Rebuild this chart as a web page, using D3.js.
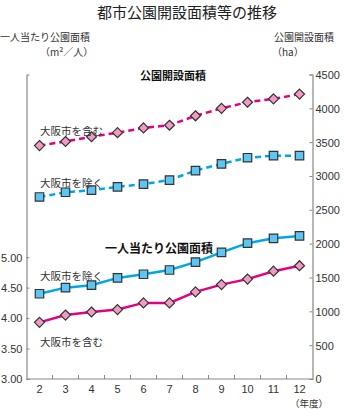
<!DOCTYPE html>
<html><head><meta charset="utf-8">
<script src="https://cdn.jsdelivr.net/npm/d3@7"></script>
<style>body{margin:0;background:#fff;}svg{display:block;font-family:"Noto Sans CJK JP","Noto Sans",sans-serif;}</style>
</head><body><svg id="c" width="344" height="409"></svg>
<script>
const years = [2,3,4,5,6,7,8,9,10,11,12];
const areaInclOsaka = [3450,3510,3580,3640,3710,3750,3890,4000,4090,4140,4210];
const areaExclOsaka = [2690,2760,2790,2840,2880,2940,3080,3180,3270,3300,3300];
const perPersonExclOsaka = [4.40,4.50,4.54,4.66,4.72,4.79,4.92,5.08,5.23,5.31,5.35];
const perPersonInclOsaka = [3.93,4.05,4.10,4.14,4.25,4.25,4.43,4.55,4.64,4.77,4.86];
const leftTicks = [3.00,3.50,4.00,4.50,5.00];
const rightTicks = [0,500,1000,1500,2000,2500,3000,3500,4000,4500];

const svg = d3.select("#c");
const L = 26.5, R = 312.5, B = 379, T = 74.5;
const x = d3.scaleBand().domain(years).range([L,R]);
const yR = d3.scaleLinear().domain([0,4500]).range([B,T]);
const yL = d3.scaleLinear().domain([3,8]).range([B,T]);
const cx = d => x(d) + x.bandwidth()/2;
const axisCol = "#888", txt = "#333";
const PINK = "#e4007f", PINKF = "#f39ac4", CYAN = "#00a7e6", CYANF = "#5cc6f2";

// title
svg.append("text").attr("x",187).attr("y",18).attr("text-anchor","middle")
  .attr("font-size",15).attr("fill","#222").text("都市公園開設面積等の推移");
svg.append("text").attr("x",0).attr("y",41).attr("font-size",10).attr("fill",txt).text("一人当たり公園面積");
svg.append("text").attr("x",40).attr("y",56).attr("font-size",10).attr("fill",txt).text("（m²／人）");
svg.append("text").attr("x",274).attr("y",41).attr("font-size",10).attr("fill",txt).text("公園開設面積");
svg.append("text").attr("x",272).attr("y",56).attr("font-size",10).attr("fill",txt).text("（ha）");

// axes
const gL = svg.append("g").attr("transform",`translate(${L},0)`)
  .call(d3.axisRight(yL).tickValues(leftTicks).tickSize(3).tickFormat(""));
gL.selectAll(".tick").append("text").attr("x",-4).attr("dy","0.35em").attr("text-anchor","end")
  .attr("font-size",11).attr("fill",txt).text(d=>d3.format(".2f")(d));
const gR = svg.append("g").attr("transform",`translate(${R},0)`)
  .call(d3.axisLeft(yR).tickValues(rightTicks).tickSize(3).tickFormat(""));
gR.selectAll(".tick").append("text").attr("x",3).attr("dy","0.35em").attr("text-anchor","start")
  .attr("font-size",11).attr("fill",txt).text(d=>d);
const gB = svg.append("g").attr("transform",`translate(0,${B})`)
  .call(d3.axisBottom(x).tickSize(0).tickFormat(d=>d));
gB.selectAll("text").attr("font-size",11).attr("fill",txt).attr("dy","1.0em");
// inner ticks at band boundaries
svg.append("g").selectAll("line").data(years.slice(1)).join("line")
  .attr("x1",d=>x(d)).attr("x2",d=>x(d)).attr("y1",B).attr("y2",B-4)
  .attr("stroke",axisCol);
[gL,gR,gB].forEach(g=>{g.selectAll("path.domain").attr("stroke",axisCol).attr("stroke-width",1.2);
  g.selectAll(".tick line").attr("stroke",axisCol);});
gB.select("path.domain").remove();
svg.append("line").attr("x1",L).attr("x2",R).attr("y1",B).attr("y2",B).attr("stroke",axisCol).attr("stroke-width",1.2);
svg.append("text").attr("x",290).attr("y",407).attr("font-size",9.5).attr("fill",txt).text("（年度）");

function series(vals, scale, color, fill, dashed, shape){
  const line = d3.line().x((d,i)=>cx(years[i])).y(d=>scale(d));
  svg.append("path").datum(vals).attr("d",line).attr("fill","none")
    .attr("stroke",color).attr("stroke-width",2.5)
    .attr("stroke-dasharray",dashed?"6,4":null);
  const sym = d3.symbol().type(shape==="sq"?d3.symbolSquare:d3.symbolDiamond2).size(shape==="sq"?72:64);
  svg.append("g").selectAll("path").data(vals).join("path")
    .attr("transform",(d,i)=>`translate(${cx(years[i])},${scale(d)})`)
    .attr("d",sym).attr("fill",fill).attr("stroke","#333").attr("stroke-width",1.2);
}
series(areaInclOsaka, yR, PINK, PINKF, true, "dm");
series(areaExclOsaka, yR, CYAN, CYANF, true, "sq");
series(perPersonExclOsaka, yL, CYAN, CYANF, false, "sq");
series(perPersonInclOsaka, yL, PINK, PINKF, false, "dm");

// labels
function lab(t,xx,yy,bold,fs){svg.append("text").attr("x",xx).attr("y",yy).attr("font-size",fs||10.5)
  .attr("font-weight",bold?"bold":"normal").attr("fill",bold?"#111":txt).text(t);}
lab("公園開設面積",140,80,true,11);
lab("大阪市を含む",40,135);
lab("大阪市を除く",40,187);
lab("一人当たり公園面積",105,253,true,12);
lab("大阪市を除く",40,280);
lab("大阪市を含む",40,346);
</script></body></html>
